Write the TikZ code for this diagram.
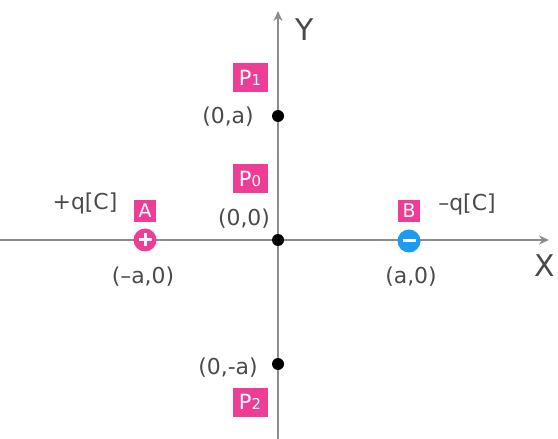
\documentclass[tikz,border=0pt]{standalone}
\usepackage{fontspec}
\setmainfont{DejaVu Sans}
\usetikzlibrary{arrows.meta}
\definecolor{axisgray}{HTML}{8C8C8C}
\definecolor{txtgray}{HTML}{4A4A4A}
\definecolor{pinkc}{HTML}{EE3D94}
\definecolor{bluec}{HTML}{1C9BF0}
\newcommand{\smalldig}[1]{\kern0.3bp{\fontsize{15}{15}\selectfont #1}}
\begin{document}
\begin{tikzpicture}[x=1bp,y=-1bp,
 lbl/.style={text=txtgray,font=\fontsize{22}{22}\selectfont,inner sep=0pt},
 axlbl/.style={text=txtgray,font=\fontsize{30}{30}\selectfont,inner sep=0pt},
 pbox/.style={fill=pinkc,text=white,minimum width=35bp,minimum height=29bp,inner sep=0pt,font=\fontsize{21}{21}\selectfont},
 sbox/.style={fill=pinkc,text=white,minimum width=22bp,minimum height=22bp,inner sep=0pt,font=\fontsize{19}{19}\selectfont},
 axis/.style={draw=axisgray,line width=2bp,-{Stealth[length=10bp,width=9bp]}},
 dot/.style={circle,fill=black,minimum size=12bp,inner sep=0pt},
 charge/.style={circle,minimum size=23bp,inner sep=0pt},
 sign/.style={draw=white,line width=3bp}]
\useasboundingbox (0,0) rectangle (558,439);
\coordinate (xs) at (0,240);
\coordinate (xe) at (549,240);
\coordinate (ys) at (278,439);
\coordinate (ye) at (278,11);
\draw[axis] (xs) -- (xe);
\draw[axis] (ys) -- (ye);
\node[axlbl] (X) at (545,266) {X};
\node[axlbl] (Y) at (305,30) {Y};
% points on y axis
\node[dot] (p1) at (278,116) {};
\node[dot] (p0) at (278,240) {};
\node[dot] (p2) at (278,364) {};
\node[lbl] (l1) at (228,117) {(0,a)};
\node[lbl] (l0) at (244,219) {(0,0)};
\node[lbl] (l2) at (228,368) {(0,-a)};
\node[pbox] (P1) at (250,78) {P\smalldig{1}};
\node[pbox] (P0) at (250,179) {P\smalldig{0}};
\node[pbox] (P2) at (250,402) {P\smalldig{2}};
% charges
\node[charge,fill=pinkc] (A) at (145,240) {};
\draw[sign] ([xshift=-6.5bp]A.center) -- ([xshift=6.5bp]A.center);
\draw[sign] ([yshift=-6.5bp]A.center) -- ([yshift=6.5bp]A.center);
\node[charge,fill=bluec] (B) at (409,241) {};
\draw[sign] ([xshift=-6.5bp]B.center) -- ([xshift=6.5bp]B.center);
\node[sbox] (Abox) at (145,211) {A};
\node[sbox] (Bbox) at (409,211) {B};
\node[lbl] (qa) at (85,203) {+q[C]};
\node[lbl] (qb) at (467,204) {\textendash q[C]};
\node[lbl] (la) at (143,277) {(\textendash a,0)};
\node[lbl] (lb) at (411,277) {(a,0)};
\end{tikzpicture}
\end{document}
